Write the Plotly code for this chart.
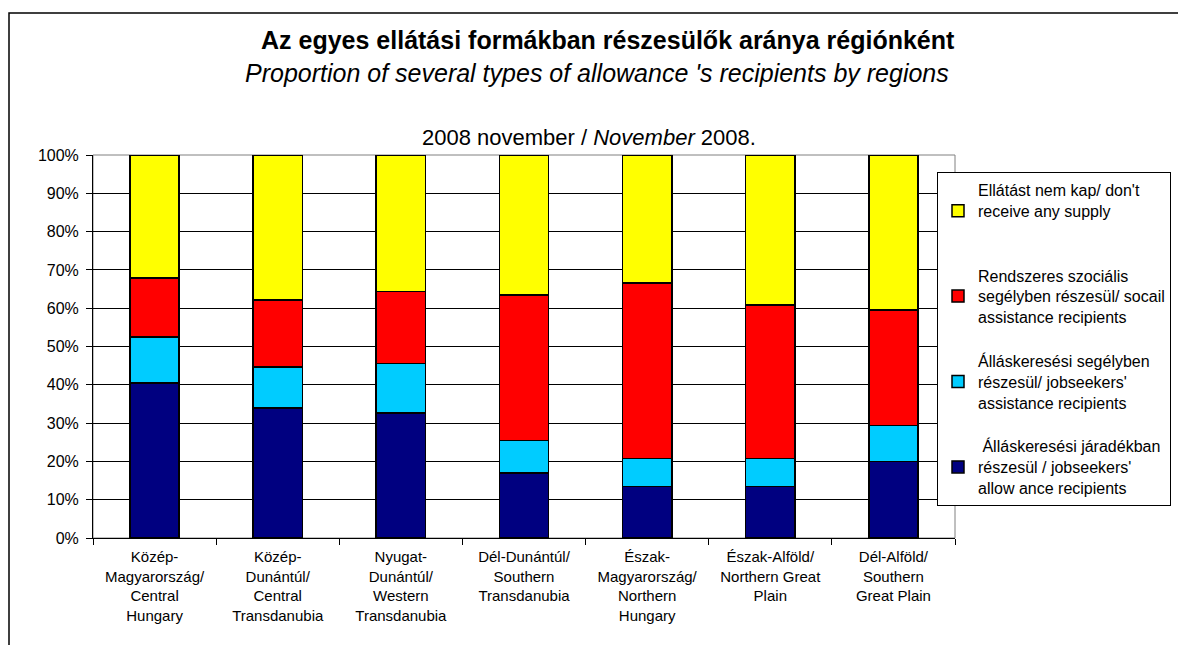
import plotly.graph_objects as go

categories = [
    "Közép-<br>Magyarország/<br>Central<br>Hungary",
    "Közép-<br>Dunántúl/<br>Central<br>Transdanubia",
    "Nyugat-<br>Dunántúl/<br>Western<br>Transdanubia",
    "Dél-Dunántúl/<br>Southern<br>Transdanubia",
    "Észak-<br>Magyarország/<br>Northern<br>Hungary",
    "Észak-Alföld/<br>Northern Great<br>Plain",
    "Dél-Alföld/<br>Southern<br>Great Plain",
]

jaradek = [40.5, 34.0, 32.7, 17.0, 13.5, 13.5, 20.0]
segely = [12.0, 10.7, 12.9, 8.5, 7.2, 7.2, 9.4]
szocialis = [15.4, 17.4, 18.7, 37.9, 45.9, 40.1, 30.1]
nem_kap = [32.1, 37.9, 35.7, 36.6, 33.4, 39.2, 40.5]

series_names = [
    " Álláskeresési járadékban<br>részesül / jobseekers'<br>allow ance recipients",
    "Álláskeresési segélyben<br>részesül/ jobseekers'<br>assistance recipients",
    "Rendszeres szociális<br>segélyben részesül/ socail<br>assistance recipients",
    "Ellátást nem kap/ don't<br>receive any supply<br> ",
]
series_values = [jaradek, segely, szocialis, nem_kap]
series_colors = ["#000080", "#00CCFF", "#FF0000", "#FFFF00"]
legend_ranks = [4, 3, 2, 1]

FONT = "Liberation Sans, Arial, sans-serif"

fig = go.Figure()
for i, (name, vals, col, rk) in enumerate(zip(series_names, series_values, series_colors, legend_ranks)):
    fig.add_trace(go.Bar(
        x=categories, y=vals, name=name,
        marker=dict(color=col, line=dict(color="black", width=1.5)),
        width=0.4, legendgroup=f"g{i}", legendrank=rk,
    ))

# page body has an 8px offset; reference pixel coords are shifted by -8
OFF = 8
FW, FH = 1186 - OFF, 645 - OFF
L, T = 93 - OFF, 155 - OFF
R = FW - (955 - OFF)
B = FH - (538 - OFF)
W = FW - L - R
H = FH - T - B

def py(p):
    return (538 - p) / H

def px(p):
    return (p - 93) / W

fig.update_layout(
    width=FW, height=FH,
    margin=dict(l=L, r=R, t=T, b=B),
    barmode="stack",
    paper_bgcolor="white", plot_bgcolor="white",
    font=dict(family=FONT, size=15, color="black"),
    showlegend=True,
    legend=dict(
        x=px(937), y=py(172), xanchor="left", yanchor="top",
        traceorder="grouped", tracegroupgap=20,
        bgcolor="white", bordercolor="black", borderwidth=1,
        font=dict(family=FONT, size=16, color="black"),
    ),
    xaxis=dict(
        showline=True, linecolor="black", linewidth=1,
        ticks="outside", ticklen=6, tickcolor="black", tickson="boundaries",
        tickfont=dict(size=15), showgrid=False, tickangle=0,
        ticklabelstandoff=5,
    ),
    yaxis=dict(
        range=[0, 100], tickvals=[0, 10, 20, 30, 40, 50, 60, 70, 80, 90, 100],
        ticktext=["0%", "10%", "20%", "30%", "40%", "50%", "60%", "70%", "80%", "90%", "100%"],
        showline=True, linecolor="black", linewidth=1,
        ticks="outside", ticklen=6, tickcolor="black",
        showgrid=True, gridcolor="black", gridwidth=1,
        tickfont=dict(size=16), zeroline=False, ticklabelstandoff=4,
    ),
    shapes=[
        dict(type="rect", xref="paper", yref="paper", x0=0, x1=1, y0=0, y1=1,
             line=dict(color="#808080", width=1), layer="below"),
        dict(type="rect", xref="paper", yref="paper", x0=px(9), x1=px(1220), y0=py(13), y1=py(680),
             line=dict(color="black", width=1.5), layer="below"),
    ],
    annotations=[
        dict(text="<b>Az egyes ellátási formákban részesülők aránya régiónként</b>",
             xref="paper", yref="paper", x=px(608), y=py(40), showarrow=False,
             xanchor="center", yanchor="middle",
             font=dict(size=25, family=FONT)),
        dict(text="<i>Proportion of several types of allowance 's recipients by regions</i>",
             xref="paper", yref="paper", x=px(597), y=py(73), showarrow=False,
             xanchor="center", yanchor="middle",
             font=dict(size=25, family=FONT)),
        dict(text="2008 november / <i>November</i> 2008.",
             xref="paper", yref="paper", x=px(589), y=py(137), showarrow=False,
             xanchor="center", yanchor="middle",
             font=dict(size=22, family=FONT)),
    ],
)

fig.write_html("out.html")
